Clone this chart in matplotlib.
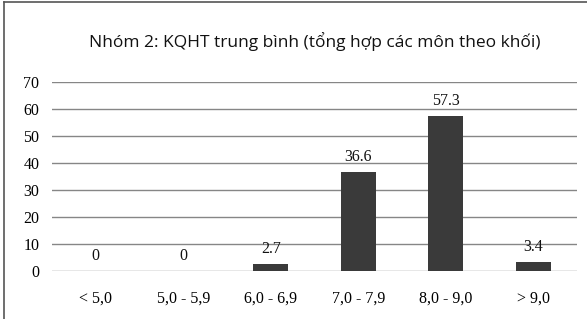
import matplotlib
matplotlib.use("Agg")
import matplotlib.pyplot as plt
from matplotlib.lines import Line2D

categories = ["< 5,0", "5,0 - 5,9", "6,0 - 6,9", "7,0 - 7,9", "8,0 - 9,0", "> 9,0"]
values = [0, 0, 2.7, 36.6, 57.3, 3.4]
value_labels = ["0", "0", "2.7", "36.6", "57.3", "3.4"]
yticks = [0, 10, 20, 30, 40, 50, 60, 70]
title = "Nhóm 2: KQHT trung bình (tổng hợp các môn theo khối)"

W, H = 587, 319
fig = plt.figure(figsize=(W / 100, H / 100), dpi=100)
ax = fig.add_axes([52 / W, 1 - 271 / H, (577 - 52) / W, (271 - 82) / H])

grid_color = "#868686"
bar_color = "#3a3a3a"
serif = ["Liberation Serif", "DejaVu Serif"]
fs = 11.5

x = list(range(len(categories)))
bars = ax.bar(x, values, width=0.4, color=bar_color, zorder=3)
ax.bar_label(bars, labels=value_labels, padding=5, fontsize=fs, family=serif, color="#111111")

ax.set_xlim(-0.5, len(categories) - 0.5)
ax.set_ylim(0, 70)
ax.set_yticks(yticks)
ax.set_yticklabels([str(v) for v in yticks], family=serif, fontsize=fs)
ax.set_xticks(x)
ax.set_xticklabels(categories, family=serif, fontsize=fs)
ax.tick_params(axis="y", length=0, pad=9)
ax.tick_params(axis="x", length=0, pad=14)
ax.yaxis.grid(True, color=grid_color, linewidth=1.0, zorder=0)
for s in ax.spines.values():
    s.set_visible(False)

fig.text(315 / W, 1 - 42 / H, title, ha="center", va="center",
         fontsize=12.5, family=["Open Sans", "DejaVu Sans"], color="#111111")

# outer frame: top and left lines only
fig.add_artist(Line2D([4 / W, 4 / W], [0, 1 - 2 / H], transform=fig.transFigure, color="#555555", linewidth=1.2))
fig.add_artist(Line2D([4 / W, 1], [1 - 2 / H, 1 - 2 / H], transform=fig.transFigure, color="#555555", linewidth=1.2))

fig.savefig("out.png", dpi=100)
